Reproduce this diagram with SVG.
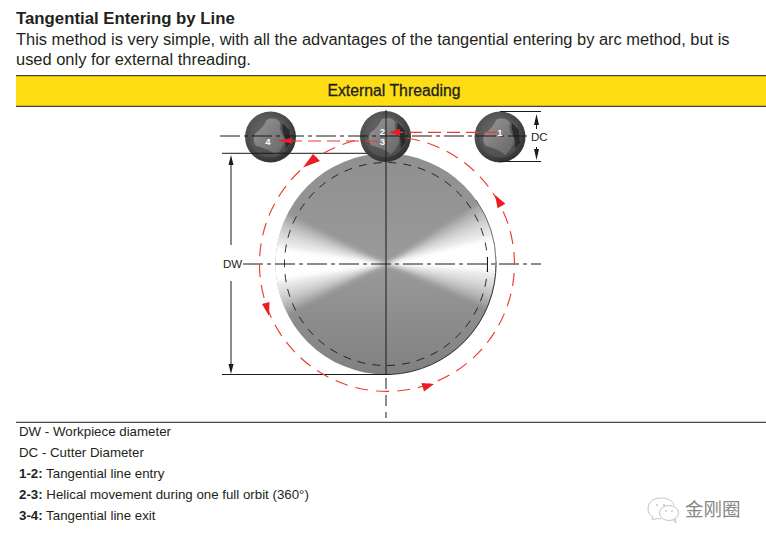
<svg xmlns="http://www.w3.org/2000/svg" xmlns:xlink="http://www.w3.org/1999/xlink" width="766" height="543" viewBox="0 0 766 543">
<style>
text{font-family:"Liberation Sans",Arial,sans-serif;fill:#231f20}
.h{font-size:16.8px;font-weight:bold}
.p{font-size:16.45px}
.l{font-size:13.3px}
.d{font-size:11.5px}
.n{font-size:9.5px;font-weight:bold;fill:#fff;text-anchor:middle}
.k{stroke:#1a1a1a;stroke-width:1;fill:none}
.cl{stroke:#1a1a1a;stroke-width:1;fill:none;stroke-dasharray:20 4 4 4}
.red{stroke:#ee3a30;stroke-width:1.15;fill:none}
.ra{fill:#ed1c24}
.ka{fill:#1a1a1a}
.w{fill:#fff;opacity:.2}
.wm{fill:none;stroke:#c4c4c4;stroke-width:1}
</style>
<defs>
<radialGradient id="cut" cx="40%" cy="35%" r="70%"><stop offset="0" stop-color="#6a6a6a"/><stop offset=".65" stop-color="#4a4a4a"/><stop offset="1" stop-color="#2e2e2e"/></radialGradient>
<linearGradient id="lobe" x1="0" y1="0" x2="1" y2="1"><stop offset="0" stop-color="#979797"/><stop offset="1" stop-color="#666"/></linearGradient>
<linearGradient id="base" x1="0" y1="0" x2="0" y2="1"><stop offset="0" stop-color="#8f8f8f"/><stop offset=".5" stop-color="#9a9a9a"/><stop offset="1" stop-color="#808080"/></linearGradient>
<clipPath id="disc"><circle cx="386" cy="264" r="110.5"/></clipPath>
<filter id="soft" x="-10%" y="-10%" width="120%" height="120%"><feGaussianBlur stdDeviation="2.2"/></filter>
<g id="cutter">
<circle r="25.5" fill="url(#cut)"/>
<circle r="20.500" fill="#5c5c5c" opacity=".55"/>
<path d="M-4,-17C2,-20 8,-18 10,-14C8,-8 11,-3 14,1C14,8 10,14 5,18C2,14 -6,11 -14,9C-18,5 -17,0 -15,-4C-10,-7 -6,-12 -4,-17Z" fill="url(#lobe)"/>
<path d="M12,-14L19,-7L20,6L15,12Q16,3 13,-3Q11,-9 12,-14Z" fill="#222" opacity=".8"/>
</g>
</defs>

<text class="h" x="16" y="24">Tangential Entering by Line</text>
<text class="p" x="16" y="45">This method is very simple, with all the advantages of the tangential entering by arc method, but is</text>
<text class="p" x="16" y="65">used only for external threading.</text>

<rect x="16" y="76" width="750" height="30" fill="#ffdd15"/>
<path class="k" d="M16,75.700H766M16,106.300H766"/>
<text x="394" y="96" text-anchor="middle" font-size="15.800" style="stroke:#231f20;stroke-width:.3">External Threading</text>

<g id="workpiece">
<circle cx="386" cy="264" r="110.5" fill="url(#base)"/>
<g clip-path="url(#disc)">
<g id="wedges" filter="url(#soft)">
<g id="wedge-left">
<path class="w" d="M386,264L260,202V326Z"/><path class="w" d="M386,264L260,210V318Z"/><path class="w" d="M386,264L260,217V311Z"/><path class="w" d="M386,264L260,223V305Z"/><path class="w" d="M386,264L260,228V300Z"/><path class="w" d="M386,264L260,233V295Z"/><path class="w" d="M386,264L260,237V291Z"/><path class="w" d="M386,264L260,240V288Z"/><path d="M386,264L260,244V284Z" fill="#fff"/>
</g>
<g id="wedge-right" transform="rotate(-5 386 264)">
<path class="w" d="M386,264L512,198V330Z"/><path class="w" d="M386,264L512,207V321Z"/><path class="w" d="M386,264L512,215V313Z"/><path class="w" d="M386,264L512,221V307Z"/><path class="w" d="M386,264L512,227V301Z"/><path class="w" d="M386,264L512,232V296Z"/><path class="w" d="M386,264L512,236V292Z"/><path class="w" d="M386,264L512,240V288Z"/><path d="M386,264L512,244V284Z" fill="#fff"/>
</g>
</g>
</g>
<path d="M496,262A110.5,110.5 0 0 1 390,374.500" fill="none" stroke="#333" stroke-width="1"/>
<path d="M476,200A110.5,110.5 0 0 1 496,262" fill="none" stroke="#555" stroke-width=".8"/>
<circle cx="386" cy="264" r="101.5" fill="none" stroke="#1a1a1a" stroke-width=".9" stroke-dasharray="8 7"/>
</g>

<g id="cutter-4" transform="translate(270.5 137)"><use xlink:href="#cutter" href="#cutter"/></g>
<g id="cutter-2-3" transform="translate(385.5 136.5)"><use xlink:href="#cutter" href="#cutter"/></g>
<g id="cutter-1" transform="translate(500 137)"><use xlink:href="#cutter" href="#cutter"/></g>

<g id="connectors">
<path class="cl" d="M220,136H527"/>
<path class="cl" d="M243,264H541"/>
<path class="k" d="M386,110V375"/>
<path class="k" d="M386,378V418" stroke-dasharray="11 6"/>
<path class="k" d="M222,153.300H367M222,374.500H390M500,111.500H541M500,161.500H541M16,422.300H766M487.500,257V272"/>
<path class="k" d="M231,160V245M231,281V368"/>
<path class="ka" d="M231,155L233.500,165H228.500ZM231,374L233.500,364H228.500Z"/>
<path class="k" d="M536.500,122V129M536.500,147V152"/>
<path class="ka" d="M536.500,114L539,125H534ZM536.500,160L539,149H534Z"/>
<path class="red" d="M407,138A127.500,127.500 0 1 1 360,139.300" stroke-dasharray="13 8"/>
<path class="red" d="M498,132.300H399" stroke-dasharray="13 6"/>
<path class="red" d="M378,141H291" stroke-dasharray="13 6"/>
<path class="ra" d="M389,132.300L400,129V136Z"/>
<path class="ra" d="M277.500,140.800L292,138V143.500Z"/>
<path class="ra" d="M303,167.500L313,154L320,161Z"/>
<path class="ra" d="M495,195L505.400,203.800L497.600,208.200Z"/>
<path class="ra" d="M269,316L262,304L269.500,302Z"/>
<path class="ra" d="M434,384L421.500,383L424,391.500Z"/>
</g>

<g id="labels">
<text class="n" x="500" y="136">1</text>
<text class="n" x="382.500" y="134.500">2</text>
<text class="n" x="382.500" y="145">3</text>
<text class="n" x="268" y="145">4</text>
<text class="d" x="531" y="141">DC</text>
<text class="d" x="223" y="268">DW</text>
</g>

<g id="legend">
<text class="l" x="19" y="436">DW - Workpiece diameter</text>
<text class="l" x="19" y="457">DC - Cutter Diameter</text>
<text class="l" x="19" y="478"><tspan font-weight="bold">1-2:</tspan> Tangential line entry</text>
<text class="l" x="19" y="499"><tspan font-weight="bold">2-3:</tspan> Helical movement during one full orbit (360°)</text>
<text class="l" x="19" y="520"><tspan font-weight="bold">3-4:</tspan> Tangential line exit</text>
</g>

<g id="watermark">
<path class="wm" d="M674,505C673,501 668,498 661,498C652,498 648,503 648,509C648,513 650,515 653,517L652,520L657,518.500L661,519"/>
<ellipse class="wm" cx="669" cy="513" rx="9.500" ry="7.500"/>
<path class="wm" d="M673,520L676,523L675,518"/>
<circle cx="657" cy="505" r="1" fill="#c4c4c4"/><circle cx="664" cy="505" r="1" fill="#c4c4c4"/><circle cx="666" cy="511" r=".9" fill="#c4c4c4"/><circle cx="672" cy="511" r=".9" fill="#c4c4c4"/>
<text x="685" y="516" font-size="18.500" style="font-family:'Noto Sans CJK SC','Noto Sans CJK TC',sans-serif;fill:#888">金刚圈</text>
</g>
</svg>
